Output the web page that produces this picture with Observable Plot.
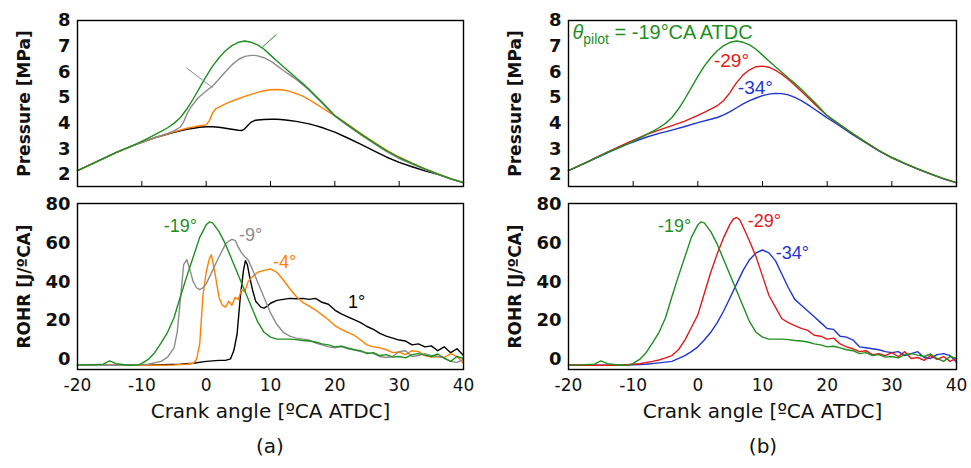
<!DOCTYPE html>
<html>
<head>
<meta charset="utf-8">
<script src="https://cdn.jsdelivr.net/npm/d3@7"></script>
<script src="https://cdn.jsdelivr.net/npm/@observablehq/plot@0.6"></script>
<style>
  body { margin: 0; background: #fff; }
  #root { position: relative; width: 971px; height: 468px; background: #fff;
          font-family: "Liberation Sans", Arial, Helvetica, sans-serif; overflow: hidden; }
  .pn { position: absolute; }
  .pn svg { display: block; }
  .cap { position: absolute; width: 100px; text-align: center; font-size: 20px; color: #111;
         font-family: "DejaVu Sans", sans-serif; }
</style>
</head>
<body>
<div id="root">
  <div class="pn" id="ta" style="left:0px;top:0px"></div>
  <div class="pn" id="ba" style="left:0px;top:190px"></div>
  <div class="pn" id="tb" style="left:480px;top:0px"></div>
  <div class="pn" id="bb" style="left:480px;top:190px"></div>
  <div class="cap" style="left:220px;top:434px">(a)</div>
  <div class="cap" style="left:713px;top:434px">(b)</div>
</div>
<script>
const FONT = '"Liberation Sans", Arial, Helvetica, sans-serif';
const WIDE = '"DejaVu Sans", sans-serif';

// ---- tick values ----
const xTicks = [-20, -10, 0, 10, 20, 30, 40];
const pTicks = [2, 3, 4, 5, 6, 7, 8];
const rTicks = [0, 20, 40, 60, 80];

// ---- cylinder pressure [MPa] vs crank angle ----
const P1x  = [-20,-17,-14,-11,-8,-5,-3,-1,0,1,2,3,4,5,5.5,6,6.5,7,7.5,8,9,10,11,12,13,14,15,16,17,18,19,20,22,24,26,28,30,32,34,36,38,40];
const P1y  = [2.15,2.5,2.85,3.16,3.43,3.64,3.76,3.84,3.86,3.86,3.84,3.8,3.76,3.72,3.71,3.78,3.92,4.04,4.1,4.12,4.14,4.15,4.15,4.13,4.1,4.07,4.02,3.97,3.9,3.83,3.74,3.65,3.42,3.18,2.93,2.68,2.47,2.3,2.14,2.0,1.83,1.68];
const P4x  = [-20,-17,-14,-11,-8,-5,-3,-1,0,0.5,1,1.5,2,3,4,5,6,7,8,9,10,11,12,13,14,15,16,17,18,19,20,22,24,26,28,30,32,34,36,38,40];
const P4y  = [2.15,2.5,2.85,3.16,3.43,3.66,3.8,3.9,3.93,4.1,4.4,4.56,4.62,4.75,4.86,4.95,5.04,5.12,5.2,5.26,5.3,5.31,5.29,5.24,5.15,5.05,4.92,4.76,4.6,4.44,4.29,3.95,3.6,3.27,2.95,2.68,2.44,2.22,2.02,1.84,1.69];
const P9x  = [-20,-17,-14,-11,-8,-6,-5,-4,-3.5,-3,-2.4,-1.2,0,1,2,3,4,5,6,7,7.5,8,9,10,11,12,13,14,15,16,18,20,22,24,26,28,30,32,34,36,38,40];
const P9y  = [2.15,2.5,2.85,3.16,3.43,3.6,3.7,3.85,4.05,4.35,4.62,5.0,5.25,5.45,5.72,6.0,6.27,6.48,6.6,6.64,6.64,6.62,6.55,6.42,6.24,6.05,5.88,5.7,5.5,5.28,4.78,4.27,3.9,3.55,3.22,2.9,2.62,2.4,2.2,2.0,1.83,1.67];
const P19x = [-20,-17,-14,-11,-9,-7,-6,-5,-4,-3,-2,-1,0,1,2,3,4,5,6,7,8,9,10,11,12,13,14,15,16,17,18,19,20,22,24,26,28,30,32,34,36,38,40];
const P19y = [2.15,2.5,2.86,3.17,3.42,3.68,3.82,3.99,4.22,4.55,4.95,5.38,5.82,6.22,6.55,6.82,7.02,7.15,7.2,7.15,7.05,6.88,6.65,6.42,6.2,5.98,5.76,5.55,5.32,5.07,4.82,4.56,4.29,3.93,3.58,3.25,2.93,2.66,2.43,2.22,2.02,1.84,1.68];
const P29x = [-20,-17,-14,-11,-8,-6,-4,-2,0,1,2,3,4,5,5.5,6,7,8,9,10,11,12,13,14,15,16,17,18,19,20,22,24,26,28,30,32,34,36,38,40];
const P29y = [2.15,2.5,2.87,3.22,3.55,3.73,3.9,4.08,4.3,4.42,4.55,4.68,4.88,5.2,5.4,5.58,5.88,6.08,6.2,6.22,6.18,6.06,5.9,5.7,5.48,5.24,5.0,4.76,4.52,4.29,3.93,3.58,3.25,2.93,2.66,2.43,2.22,2.02,1.84,1.68];
const P34x = [-20,-17,-14,-11,-8,-6,-4,-2,0,2,3,4,5,6,7,8,9,10,11,12,13,14,15,16,17,18,19,20,21,22,24,26,28,30,32,34,36,38,40];
const P34y = [2.15,2.49,2.84,3.17,3.45,3.6,3.73,3.87,4.02,4.15,4.22,4.32,4.45,4.6,4.75,4.88,4.98,5.07,5.13,5.16,5.15,5.1,5.0,4.88,4.72,4.55,4.38,4.2,4.05,3.88,3.54,3.23,2.92,2.65,2.42,2.21,2.01,1.83,1.67];

// leader lines in panel (a) pressure
const leadGrayX  = [-3.05, 0.95];
const leadGrayY  = [6.15, 5.39];
const leadGreenX = [8.72, 10.9];
const leadGreenY = [6.96, 7.45];

// ---- rate of heat release [J/ºCA] vs crank angle ----
const R1x  = [-20,-16,-12,-8,-4,-2,0,2,3,3.8,4.3,4.8,5.3,5.8,6.1,6.4,6.8,7.2,7.7,8.5,9,9.5,10,11,12,13,14,15,16,17,18,19,20,21,22,23,24,25,26,27,28,29,30,31,32,33,34,35,36,37,38,39,40];
const R1y  = [-3,-3,-3,-2.8,-2.5,-2,-1,-0.5,-0.5,0.3,4.6,13,32,46,51,49,42,36,30,27,26.5,27.5,29,30.5,31,31.5,31.3,31.5,31,31.5,29.5,28.5,25.5,23.5,22,20.5,19,17,15.5,13.5,12,11,10,9.5,7.5,8,6.5,7,4.5,6.5,3.5,5.5,2];
const R4x  = [-20,-16,-12,-8,-5,-3,-2,-1.5,-1,-0.5,0,0.5,0.8,1,1.5,2,2.5,3,3.5,4,4.5,5,5.5,6,6.5,7,8,9,10,11,12,13,14,15,16,17,18,19,20,21,22,23,24,25,26,27,28,29,30,31,32,33,34,35,36,37,38,39,40];
const R4y  = [-3,-3,-3,-3,-2.8,-2.5,-2,0,8,33,45,52,54,51,42,32,28,27,30,28,32,31,36,35,40,42,45,46,46.7,45,41,36.5,32.5,29.5,27.5,25.5,23,20.5,17.5,15.5,14,12.5,10,7.5,6.5,6,5,3.5,3.8,2.5,4.5,4,2,1.2,1.5,1,3,1.5,-2];
const R9x  = [-20,-16,-12,-9,-7,-6,-5,-4.5,-4,-3.5,-3,-2.5,-2,-1.5,-1,-0.5,0,1,2,3,3.5,4,4.5,5,5.5,6,6.5,7,8,9,10,11,12,13,14,15,16,17,18,19,20,21,22,23,24,25,26,27,28,29,30,31,32,33,34,35,36,37,38,39,40];
const R9y  = [-3,-3,-3,-2.5,-1,1.2,6,14,31,49,51.5,46,40,37,36,37,39,46,53,59.5,61,62,61.5,58,55,53,51.5,48,40,32,24,18,14,12,11,10.5,10,8.5,7.5,6.5,6,6.8,5.5,5,4,3.5,3,1.5,1,1.5,4,4.5,1.5,2,3,2,1.5,1,-1,-1.5,0];
const R19x = [-20,-18,-16,-15,-14,-12,-10.5,-10,-9,-8,-7,-6,-5,-4,-3,-2,-1,0,0.5,1,2,3,4,5,6,7,8,9,10,11,12,13,14,15,16,17,18,19,20,21,22,23,24,25,26,27,28,29,30,31,32,33,34,35,36,37,38,39,40];
const R19y = [-2.8,-2.8,-2.4,-0.8,-2.2,-3,-2.8,-2,0,3.5,8.5,14,21.5,32.5,43,53,63,69.5,71,70.5,66,59.5,51.5,43.5,35.5,27.5,19.5,14,11.5,10.5,10.5,10.5,10.2,9.8,9.5,9,8,7.5,6.5,6.8,6,5,4.5,3,3.5,2,2.5,1.2,1.5,0.8,2.5,3,2.2,1.5,2.8,0.5,-1,1.5,0.5];
const R29x = [-20,-16,-12,-9,-7,-6,-5,-4,-3,-2,-1,0,1,2,3,4,5,5.5,6,6.5,7,8,9,10,11,12,13,14,15,16,17,18,19,20,21,22,23,24,25,26,27,28,29,30,31,32,33,34,35,36,37,38,39,40];
const R29y = [-3,-3,-3,-2.2,-1,-0.3,0.8,2,5,10,16.5,23,34,45,54.5,63,70,72.5,73.3,72,68.5,61,53,43,33,27,21,19,17.5,16,15,12.5,12,10.5,11,8,6.5,5.5,4,4.5,2.5,3,2,3.5,1.5,4,0.5,1,-0.5,2,0,1.5,-1,0.5];
const R34x = [-20,-16,-12,-8,-6,-4,-2,-1,0,1,2,3,4,5,6,7,8,9,10,11,12,13,14,15,16,17,18,19,20,21,22,23,24,25,26,27,28,29,30,31,32,33,34,35,36,37,38,39,40];
const R34y = [-3,-3,-3,-2.5,-1.8,-1,2,4,6.5,10,14,19,25,32,39,46,51.5,55,56.5,55,51,44,37,31,28,25,22,19,16,15.5,12,11.5,10,6.5,6,5.5,5,4,3.5,4,2,3,4,1,0.5,2.5,3,2,-1.5];

// ---- in-plot labels ----
const rohrALabels = ["-19°", "-9°", "-4°", "1°"];
const rohrALabelX = [-4, 6.9, 12.2, 23.4];
const rohrALabelY = [69, 64, 50, 29.5];
const rohrALabelK = ["-19", "-9", "-4", "1"];
const rohrBLabels = ["-19°", "-29°", "-34°"];
const rohrBLabelX = [-3.6, 10.3, 14.6];
const rohrBLabelY = [69, 71.6, 54.6];
const rohrBLabelK = ["-19", "-29", "-34"];
const presBLabels = ["-29°", "-34°"];
const presBLabelX = [5.2, 8.9];
const presBLabelY = [6.44, 5.38];
const presBLabelK = ["-29", "-34"];
const pilotLabel = "θpilot = -19°CA ATDC";
const pilotLabelX = -19.4;
const pilotLabelY = 7.53;

const colors = { "1": "#000000", "-4": "#ff8000", "-9": "#8c8c8c", "-19": "#1f8f1f", "-29": "#e01a1a", "-34": "#1f35d2" };

const rows = (xs, ys) => xs.map((x, i) => ({ x, y: ys[i] })).filter(d => d.y != null);
const lbls = (t, xs, ys, ks) => t.map((s, i) => ({ text: s, x: xs[i], y: ys[i], k: ks[i] }));
const plain = d => String(d);

function lineMark(xs, ys, key, w = 1.4) {
  return Plot.line(rows(xs, ys), { x: "x", y: "y", stroke: colors[key], strokeWidth: w, curve: "linear" });
}
function textMarks(list, size) {
  return list.map(d => Plot.text([d], { x: "x", y: "y", text: "text", fill: colors[d.k], fontSize: size, textAnchor: "middle" }));
}
function yAxis(ticks, label) {
  return [
    Plot.axisY({ ticks, tickSize: 0, tickPadding: 7, fontSize: 18, fontWeight: "bold", fontFamily: WIDE,
      tickFormat: plain, label: null, fill: "#111" }),
    Plot.axisY({ ticks: [], tickSize: 0, fontSize: 17, fontWeight: "bold", fontFamily: WIDE,
      label, labelAnchor: "center", labelArrow: "none", labelOffset: 60, fill: "#111" })
  ];
}

function topPlot(ml, mr, width, lines, extra) {
  return Plot.plot({
    width, height: 190, marginLeft: ml, marginRight: mr, marginTop: 20, marginBottom: 4,
    style: { fontFamily: FONT, background: "transparent", overflow: "visible" },
    x: { domain: [-20, 40] },
    y: { domain: [1.53, 8] },
    marks: [
      ...yAxis(pTicks, "Pressure [MPa]"),
      Plot.axisX({ ticks: xTicks, tickSize: 5, dy: -5, tickFormat: () => "", label: null, stroke: "#000" }),
      ...lines,
      ...extra,
      Plot.frame({ stroke: "#000", strokeWidth: 1.4 })
    ]
  });
}
function bottomPlot(ml, mr, width, lines, extra) {
  return Plot.plot({
    width, height: 235, marginLeft: ml, marginRight: mr, marginTop: 13, marginBottom: 56,
    style: { fontFamily: FONT, background: "transparent", overflow: "visible" },
    x: { domain: [-20, 40] },
    y: { domain: [-5.2, 80.5] },
    marks: [
      ...yAxis(rTicks, "ROHR [J/ºCA]"),
      Plot.axisX({ ticks: xTicks, tickSize: 0, tickPadding: 9, fontSize: 17, fontFamily: WIDE, fill: "#111",
        tickFormat: plain, label: null }),
      Plot.axisX({ ticks: [], tickSize: 0, fontSize: 20, fontFamily: WIDE, fill: "#111",
        label: "Crank angle [ºCA ATDC]", labelAnchor: "center", labelArrow: "none", labelOffset: 48 }),
      ...lines,
      ...extra,
      Plot.frame({ stroke: "#000", strokeWidth: 1.4 })
    ]
  });
}

// panel (a) top
const ta = topPlot(77, 17, 480, [
  lineMark(P1x, P1y, "1"),
  lineMark(P4x, P4y, "-4"),
  lineMark(P9x, P9y, "-9"),
  lineMark(P19x, P19y, "-19"),
  lineMark(leadGrayX, leadGrayY, "-9", 1),
  lineMark(leadGreenX, leadGreenY, "-19", 1)
], []);
document.getElementById("ta").append(ta);

// panel (a) bottom
const ba = bottomPlot(77, 17, 480, [
  lineMark(R1x, R1y, "1"),
  lineMark(R4x, R4y, "-4"),
  lineMark(R9x, R9y, "-9"),
  lineMark(R19x, R19y, "-19")
], textMarks(lbls(rohrALabels, rohrALabelX, rohrALabelY, rohrALabelK), 18));
document.getElementById("ba").append(ba);

// panel (b) top
const tb = topPlot(88, 15, 491, [
  lineMark(P34x, P34y, "-34"),
  lineMark(P29x, P29y, "-29"),
  lineMark(P19x, P19y, "-19")
], [
  ...textMarks(lbls(presBLabels, presBLabelX, presBLabelY, presBLabelK), 19),
  Plot.text([{ x: pilotLabelX, y: pilotLabelY, text: pilotLabel }], { x: "x", y: "y", text: "text",
    fill: colors["-19"], fontSize: 20, textAnchor: "start" })
]);
document.getElementById("tb").append(tb);
d3.select(tb).selectAll("text").filter(function () { return this.textContent === pilotLabel; })
  .each(function () {
    const t = d3.select(this);
    t.text(null);
    t.append("tspan").attr("font-style", "italic").text("θ");
    t.append("tspan").attr("font-size", 14).attr("dy", 5).text("pilot");
    t.append("tspan").attr("dy", -5).text(" = -19°CA ATDC");
  });

// panel (b) bottom
const bb = bottomPlot(88, 15, 491, [
  lineMark(R34x, R34y, "-34"),
  lineMark(R29x, R29y, "-29"),
  lineMark(R19x, R19y, "-19")
], textMarks(lbls(rohrBLabels, rohrBLabelX, rohrBLabelY, rohrBLabelK), 18));
document.getElementById("bb").append(bb);
</script>
</body>
</html>
